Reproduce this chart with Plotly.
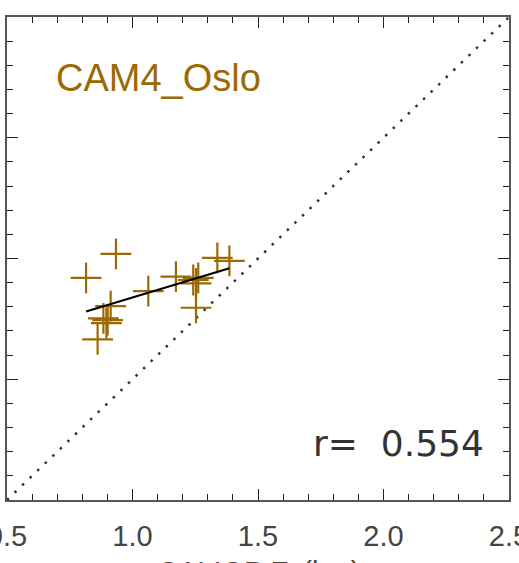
import numpy as np
import plotly.graph_objects as go

# Cloud-top heights (km): CALIOP observation vs. CAM4_Oslo model
caliop_zt = [0.934, 0.815, 0.913, 0.884, 0.896, 0.901, 0.861, 1.063,
             1.173, 1.242, 1.253, 1.262, 1.253, 1.338, 1.386]
model_zt = [1.519, 1.420, 1.303, 1.252, 1.232, 1.245, 1.165, 1.365,
            1.425, 1.411, 1.397, 1.420, 1.296, 1.503, 1.490]
model_name = "CAM4_Oslo"
r_value = 0.554
axis_range = [0.5, 2.5]
x_ticks = [0.5, 1.0, 1.5, 2.0, 2.5]
x_tick_text = ["0.5", "1.0", "1.5", "2.0", "2.5"]
x_title = "CALIOP Z<sub>t</sub> (km)"

gold = "#9C6A04"
axis_grey = "#555555"
label_font = dict(family="Liberation Sans, Arial", size=29, color="#444444")

x = np.array(caliop_zt)
y = np.array(model_zt)
slope, intercept = np.polyfit(x, y, 1)
fit_x = np.array([x.min(), x.max()])
fit_y = slope * fit_x + intercept

fig = go.Figure()

# 1:1 reference line
fig.add_trace(go.Scatter(
    x=axis_range, y=axis_range, mode="lines",
    line=dict(color="#333333", width=2.5, dash="2.5px,8px"),
    hoverinfo="skip", showlegend=False,
))

# individual points
fig.add_trace(go.Scatter(
    x=caliop_zt, y=model_zt, mode="markers",
    marker=dict(symbol="cross-thin", size=22, line=dict(color=gold, width=2.2)),
    showlegend=False,
))

# least-squares fit
fig.add_trace(go.Scatter(
    x=fit_x, y=fit_y, mode="lines",
    line=dict(color="black", width=2.2),
    hoverinfo="skip", showlegend=False,
))

axis_common = dict(
    range=axis_range,
    showgrid=False, zeroline=False,
    showline=True, linecolor=axis_grey, linewidth=1.5, mirror="allticks",
    ticks="inside", ticklen=11, tickwidth=1.3, tickcolor="#222222",
    minor=dict(dtick=0.1, ticks="inside", ticklen=6, tickwidth=1.2,
               tickcolor="#222222", showgrid=False),
)

fig.update_xaxes(
    **axis_common,
    tickmode="array", tickvals=x_ticks, ticktext=x_tick_text,
    tickfont=label_font, ticklabeloverflow="allow", ticklabelstandoff=9,
)
fig.update_yaxes(
    **axis_common,
    dtick=0.5, showticklabels=False,
)

fig.add_annotation(
    text=x_title, xref="paper", yref="paper", x=0.5, y=-0.112,
    xanchor="center", yanchor="top", showarrow=False, font=label_font,
)
fig.add_annotation(
    text=model_name, xref="paper", yref="paper", x=0.094, y=0.874,
    xanchor="left", yanchor="middle", showarrow=False,
    font=dict(family="Liberation Sans, Arial", size=38, color=gold),
)
fig.add_annotation(
    text=f"r=  {r_value:.3f}", xref="paper", yref="paper", x=0.955, y=0.118,
    xanchor="right", yanchor="middle", showarrow=False,
    font=dict(family="DejaVu Sans", size=36, color="#333333"),
)

fig.update_layout(
    width=519, height=563,
    margin=dict(l=7, r=10, t=17, b=63, autoexpand=False),
    paper_bgcolor="white", plot_bgcolor="white",
)

fig.write_html("out.html")
